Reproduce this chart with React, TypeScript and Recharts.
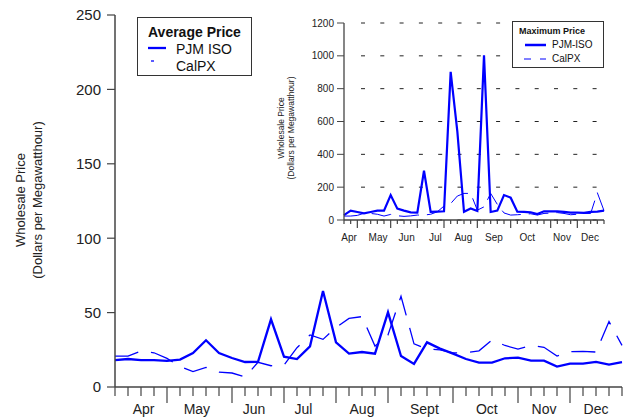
import React from 'react';
import { LineChart, Line, XAxis, YAxis, CartesianGrid } from 'recharts';

// weekly points, April through December
const weeks = Array.from({ length: 40 }, (_, i) => i);

const pjmAvg = [
  18.1, 18.8, 18.1, 18.1, 17.5, 18.4, 22.8, 31.4, 22.8, 19.5,
  16.8, 16.9, 45.5, 20.4, 18.8, 27.3, 64.5, 30, 22.4, 23.5,
  22.4, 50.2, 20.8, 15.5, 30, 25.8, 22.4, 18.8, 16.4, 16.4,
  19.3, 19.7, 17.7, 17.7, 13.7, 15.7, 15.7, 16.9, 15, 16.8,
];
const calpxAvg = [
  20.8, 20.8, 24.2, 23, 19.2, 13.8, 10.3, 13.2, 10, 9.4,
  6.7, 16.6, 14.3, 14.8, 26.4, 35, 32, 40, 46.1, 47.3,
  27.5, 35, 61, 29, 25.5, 25, 23, 23, 24.3, 31.6,
  27.9, 25.5, 28, 26.7, 20.8, 23.7, 24, 23.5, 44, 28,
];
const pjmMax = [
  30, 57, 49, 41, 49, 57, 57, 152, 69, 57,
  47, 45, 300, 49, 51, 53, 902, 540, 50, 70,
  55, 1003, 49, 57, 152, 136, 51, 49, 47, 36,
  53, 53, 53, 49, 45, 45, 43, 49, 51, 57,
];
const calpxMax = [
  24, 24, 28, 41, 40, 35, 24, 34, 26, 22,
  25, 30, 30, 35, 50, 85, 100, 146, 162, 162,
  60, 80, 162, 95, 43, 30, 32, 35, 38, 30,
  40, 42, 45, 40, 32, 35, 40, 40, 166, 57,
];

const months = ['Apr', 'May', 'Jun', 'Jul', 'Aug', 'Sept', 'Oct', 'Nov', 'Dec'];
const insetMonths = ['Apr', 'May', 'Jun', 'Jul', 'Aug', 'Sep', 'Oct', 'Nov', 'Dec'];
const monthPos = [2.2, 6.3, 10.7, 14.5, 19, 23.8, 28.6, 33, 37];
const insetMonthPos = [0.75, 5.1, 9.4, 13.7, 17.9, 22.5, 27.5, 32.7, 36.9];
const monthBreaks = [4, 9, 13, 17, 21, 26, 31, 35];
const insetBreaks = [2, 7, 11, 15, 20, 25, 31, 35];

const avgTicks = [0, 50, 100, 150, 200, 250];
const maxTicks = [0, 200, 400, 600, 800, 1000, 1200];

const FONT = '"Liberation Sans", Arial, sans-serif';
const BLUE = '#0000FF';
const AXIS = '#444';

const mainData = weeks.map((w, i) => ({ w, pjm: pjmAvg[i], cal: calpxAvg[i] }));
const insetData = weeks.map((w, i) => ({ w, pjm: pjmMax[i], cal: calpxMax[i] }));

const weekTick = (breaks: number[], shortLen: number, longLen: number) => (props: any) => {
  const { x, y, payload } = props;
  const len = breaks.includes(payload.value) ? longLen : shortLen;
  return <line x1={x} x2={x} y1={y} y2={y + len} stroke={AXIS} strokeWidth={1.2} />;
};

const RotLabel = ({ cx, cy, size, text }: { cx: number; cy: number; size: number; text: string }) => (
  <div
    style={{
      position: 'absolute',
      left: cx,
      top: cy,
      transform: 'translate(-50%, -50%) rotate(-90deg)',
      whiteSpace: 'nowrap',
      fontSize: size,
      fontFamily: FONT,
      color: '#222',
      lineHeight: 1,
    }}
  >
    {text}
  </div>
);

const gridLine = (props: any) => (
  <line
    key={`g-${props.y1}`}
    x1={props.x1 + 17}
    x2={props.x2}
    y1={props.y1}
    y2={props.y2}
    stroke="#222"
    strokeWidth={1}
    strokeDasharray="4 15.3"
  />
);

export default function App() {
  return (
    <div style={{ position: 'absolute', left: 0, top: 0, width: 626, height: 419, background: '#fff', fontFamily: FONT }}>
      <LineChart width={626} height={419} data={mainData} margin={{ top: 15, right: 4, bottom: 0, left: 60 }}>
        <XAxis
          xAxisId="a"
          dataKey="w"
          type="number"
          domain={[0, 39]}
          ticks={weeks}
          interval={0}
          height={16}
          tickSize={0}
          tickMargin={0}
          tickLine={false}
          axisLine={{ stroke: AXIS, strokeWidth: 1.5 }}
          tick={weekTick(monthBreaks, 9, 16)}
        />
        <XAxis
          xAxisId="b"
          dataKey="w"
          type="number"
          domain={[0, 39]}
          ticks={monthPos}
          interval={0}
          height={16}
          tickSize={0}
          tickMargin={1}
          tickLine={false}
          axisLine={false}
          tickFormatter={(v: number) => months[monthPos.indexOf(v)]}
          tick={{ fontSize: 14, fill: '#222', fontFamily: FONT }}
        />
        <YAxis
          width={55}
          domain={[0, 250]}
          ticks={avgTicks}
          interval={0}
          tickSize={8}
          tickMargin={6}
          axisLine={{ stroke: AXIS, strokeWidth: 1.5 }}
          tickLine={{ stroke: AXIS, strokeWidth: 1.2 }}
          tick={{ fontSize: 15, fill: '#222', fontFamily: FONT }}
        />
        <Line xAxisId="a" dataKey="cal" stroke={BLUE} strokeWidth={1.3} strokeDasharray="24 13" dot={false} isAnimationActive={false} />
        <Line xAxisId="a" dataKey="pjm" stroke={BLUE} strokeWidth={2.3} dot={false} isAnimationActive={false} />
      </LineChart>

      <RotLabel cx={20} cy={200} size={13} text="Wholesale Price" />
      <RotLabel cx={37} cy={200} size={13} text="(Dollars per Megawatthour)" />

      <div style={{ position: 'absolute', left: 137, top: 17, width: 113, height: 57, border: '1px solid #333', background: '#fff' }}>
        <div style={{ position: 'absolute', left: 10, top: 6, fontSize: 14, fontWeight: 'bold', lineHeight: '16px', color: '#111' }}>Average Price</div>
        <svg style={{ position: 'absolute', left: 0, top: 0 }} width={113} height={57}>
          <line x1={10} x2={28} y1={30} y2={30} stroke={BLUE} strokeWidth={2.3} />
          <line x1={13} x2={16} y1={43} y2={43} stroke={BLUE} strokeWidth={1.3} />
        </svg>
        <div style={{ position: 'absolute', left: 38, top: 23, fontSize: 14, lineHeight: '16px', color: '#111' }}>PJM ISO</div>
        <div style={{ position: 'absolute', left: 38, top: 40, fontSize: 14, lineHeight: '16px', color: '#111' }}>CalPX</div>
      </div>

      <div style={{ position: 'absolute', left: 270, top: 0 }}>
        <LineChart width={356} height={250} data={insetData} margin={{ top: 23, right: 22, bottom: 8, left: 40 }}>
          <CartesianGrid xAxisId="a" vertical={false} horizontal={gridLine} />
          <XAxis
            xAxisId="a"
            dataKey="w"
            type="number"
            domain={[0, 39]}
            ticks={weeks}
            interval={0}
            height={8}
            tickSize={0}
            tickMargin={0}
            tickLine={false}
            axisLine={{ stroke: AXIS, strokeWidth: 1.3 }}
            tick={weekTick(insetBreaks, 4, 8)}
          />
          <XAxis
            xAxisId="b"
            dataKey="w"
            type="number"
            domain={[0, 39]}
            ticks={insetMonthPos}
            interval={0}
            height={14}
            tickSize={0}
            tickMargin={6}
            tickLine={false}
            axisLine={false}
            tickFormatter={(v: number) => insetMonths[insetMonthPos.indexOf(v)]}
            tick={{ fontSize: 10, fill: '#222', fontFamily: FONT }}
          />
          <YAxis
            width={34}
            domain={[0, 1200]}
            ticks={maxTicks}
            interval={0}
            tickSize={7}
            tickMargin={3}
            axisLine={{ stroke: AXIS, strokeWidth: 1.3 }}
            tickLine={{ stroke: AXIS, strokeWidth: 1 }}
            tick={{ fontSize: 10, fill: '#222', fontFamily: FONT }}
          />
          <Line xAxisId="a" dataKey="cal" stroke={BLUE} strokeWidth={1} strokeDasharray="20 8" dot={false} isAnimationActive={false} />
          <Line xAxisId="a" dataKey="pjm" stroke={BLUE} strokeWidth={2.2} dot={false} isAnimationActive={false} />
        </LineChart>
      </div>

      <RotLabel cx={281} cy={128} size={8.5} text="Wholesale Price" />
      <RotLabel cx={291} cy={128} size={8.5} text="(Dollars per Megawatthour)" />

      <div style={{ position: 'absolute', left: 512, top: 21, width: 90, height: 45, border: '1px solid #333', background: '#fff' }}>
        <div style={{ position: 'absolute', left: 6, top: 4, fontSize: 9, fontWeight: 'bold', lineHeight: '11px', color: '#111' }}>Maximum Price</div>
        <svg style={{ position: 'absolute', left: 0, top: 0 }} width={90} height={45}>
          <line x1={12} x2={33} y1={23} y2={23} stroke={BLUE} strokeWidth={2.5} />
          <line x1={11} x2={33} y1={37} y2={37} stroke={BLUE} strokeWidth={1} strokeDasharray="7 9" />
        </svg>
        <div style={{ position: 'absolute', left: 39, top: 17, fontSize: 10, lineHeight: '12px', color: '#111' }}>PJM-ISO</div>
        <div style={{ position: 'absolute', left: 39, top: 31, fontSize: 10, lineHeight: '12px', color: '#111' }}>CalPX</div>
      </div>
    </div>
  );
}
